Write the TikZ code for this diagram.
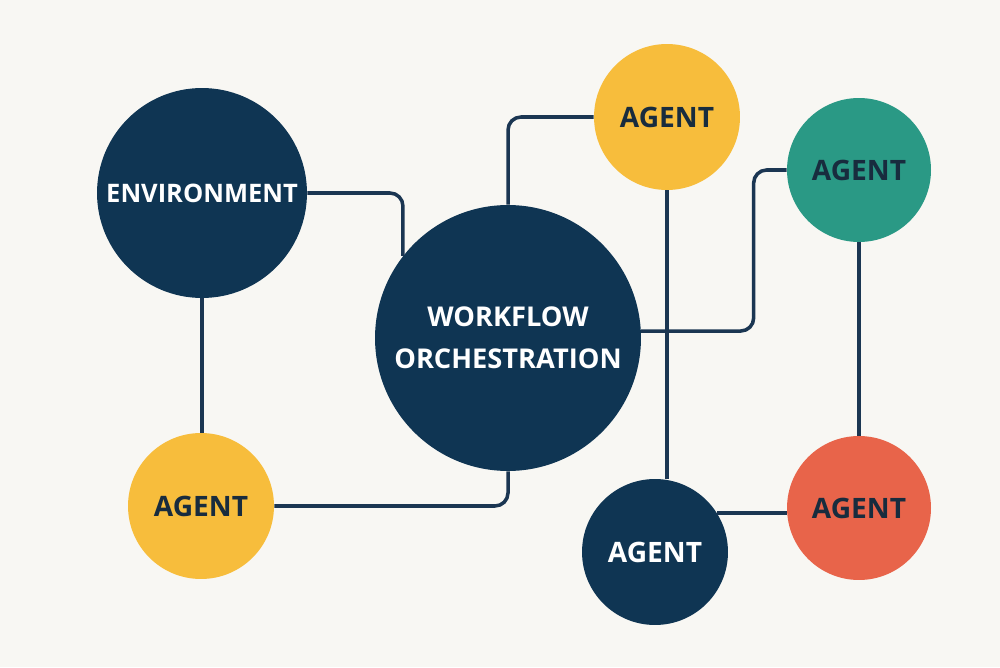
\documentclass[tikz,border=0pt]{standalone}
\usepackage{fontspec}
\setsansfont{Open Sans}
\usepackage{xcolor}
\usetikzlibrary{positioning, calc}
\definecolor{sfondo}{HTML}{F8F7F3}
\definecolor{navy}{HTML}{0F3553}
\definecolor{giallo}{HTML}{F7BD3C}
\definecolor{verde}{HTML}{2A9985}
\definecolor{rosso}{HTML}{E8644A}
\definecolor{linea}{HTML}{1B3652}
\definecolor{scuro}{HTML}{182C3E}

\begin{document}
\begin{tikzpicture}[x=0.02cm, y=0.02cm,
    nodo/.style={circle, inner sep=0pt, align=center, font=\sffamily\bfseries\fontsize{16}{19}\selectfont},
    agente/.style={nodo, minimum size=2.92cm, text=scuro},
    link/.style={draw=linea, line width=2pt, rounded corners=0.26cm}]
    % Sfondo
    \fill[sfondo] (0,0) rectangle (1000,667);

    % Cerchi
    \node[nodo, fill=navy, text=white, minimum size=4.2cm, font=\sffamily\bfseries\fontsize{14.5}{17}\selectfont] (env) at (202,474) {ENVIRONMENT};
    \node[nodo, fill=navy, text=white, minimum size=5.32cm, font=\sffamily\bfseries\fontsize{15.5}{24}\selectfont] (flow) at (508,329) {WORKFLOW\\ORCHESTRATION};
    \node[agente, fill=giallo] (agtop) at (667,550) {AGENT};
    \node[agente, fill=verde, minimum size=2.88cm] (agteal) at (859,497) {AGENT};
    \node[agente, fill=giallo] (agleft) at (201,161) {AGENT};
    \node[agente, fill=navy, text=white] (agnavy) at (655,115) {AGENT};
    \node[agente, fill=rosso, minimum size=2.88cm] (agred) at (859,159) {AGENT};

    % Collegamenti
    \draw[link] (env.east) -| (flow.142);
    \draw[link] (env.south) -- (env.south |- agleft.north);
    \draw[link] (agleft.east) -| (flow.south);
    \draw[link] (flow.north) |- (agtop.west);
    \draw[link] (agtop.south) -- (agtop.south |- agnavy.north);
    \draw[link] (flow.3) -| ([xshift=-0.66cm]agteal.west) -- (agteal.west);
    \draw[link] (agteal.south) -- (agred.north);
    \draw[link] (agnavy.32) -- (agnavy.32 -| agred.west);
\end{tikzpicture}
\end{document}
